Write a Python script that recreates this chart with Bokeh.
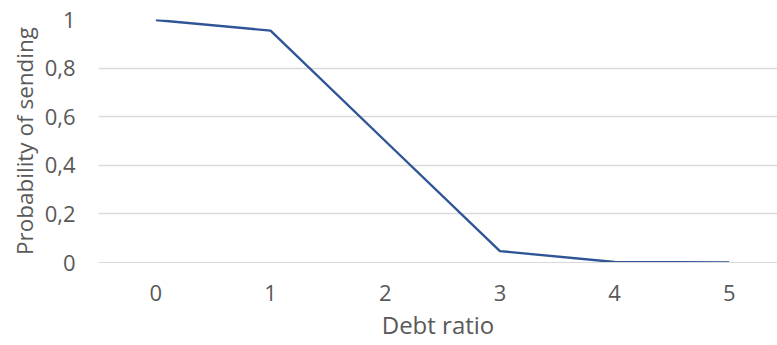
from bokeh.plotting import figure
from bokeh.models import Range1d, FixedTicker, CustomJSTickFormatter, Title
from bokeh.embed import file_html
from bokeh.resources import INLINE

# Probability of sending by debt ratio
debt_ratio = [0, 1, 2, 3, 4, 5]
prob_sending = [0.998, 0.954, 0.5, 0.047, 0.002, 0.0005]
y_ticks = [0, 0.2, 0.4, 0.6, 0.8, 1]

FONT = "Open Sans"
TEXT = "#595959"
GRID = "#D9D9D9"

p = figure(
    width=777, height=345,
    x_range=Range1d(-0.5, 5.42), y_range=Range1d(0, 1),
    output_backend="svg", toolbar_location=None,
    min_border_left=98, min_border_right=0,
    min_border_top=19, min_border_bottom=83,
)
p.outline_line_color = None
p.background_fill_color = "white"
p.border_fill_color = "white"

p.line(debt_ratio, prob_sending, line_color="#2F5597", line_width=2.4)

# x axis
p.xaxis.ticker = FixedTicker(ticks=debt_ratio)
p.xaxis.axis_line_color = GRID
p.xaxis.major_label_standoff = 22

# x axis title, placed in the panel under the axis
p.add_layout(Title(
    text="Debt ratio", align="center", offset=3, standoff=4,
    text_font=FONT, text_font_size="24px", text_font_style="normal",
    text_color=TEXT,
), "below")

# y axis
p.yaxis.ticker = FixedTicker(ticks=y_ticks)
p.yaxis.formatter = CustomJSTickFormatter(
    code="return Number(tick.toFixed(1)).toString().replace('.', ',');"
)
p.yaxis.axis_label = "Probability of sending"
p.yaxis.axis_line_color = None
p.yaxis.major_label_standoff = 23
p.yaxis.axis_label_standoff = 2
p.yaxis.axis_label_text_font_size = "22.5px"
p.yaxis.axis_label_text_font = FONT
p.yaxis.axis_label_text_font_style = "normal"
p.yaxis.axis_label_text_color = TEXT

for ax in (p.xaxis[0], p.yaxis[0]):
    ax.major_tick_line_color = None
    ax.minor_tick_line_color = None
    ax.major_tick_out = 0
    ax.major_tick_in = 0
    ax.minor_tick_out = 0
    ax.minor_tick_in = 0
    ax.major_label_text_font = FONT
    ax.major_label_text_font_size = "22px"
    ax.major_label_text_color = TEXT

p.xgrid.grid_line_color = None
p.ygrid.ticker = FixedTicker(ticks=y_ticks)
p.ygrid.grid_line_color = GRID
p.ygrid.grid_line_width = 1.3

open("out.html", "w").write(file_html(p, INLINE))
